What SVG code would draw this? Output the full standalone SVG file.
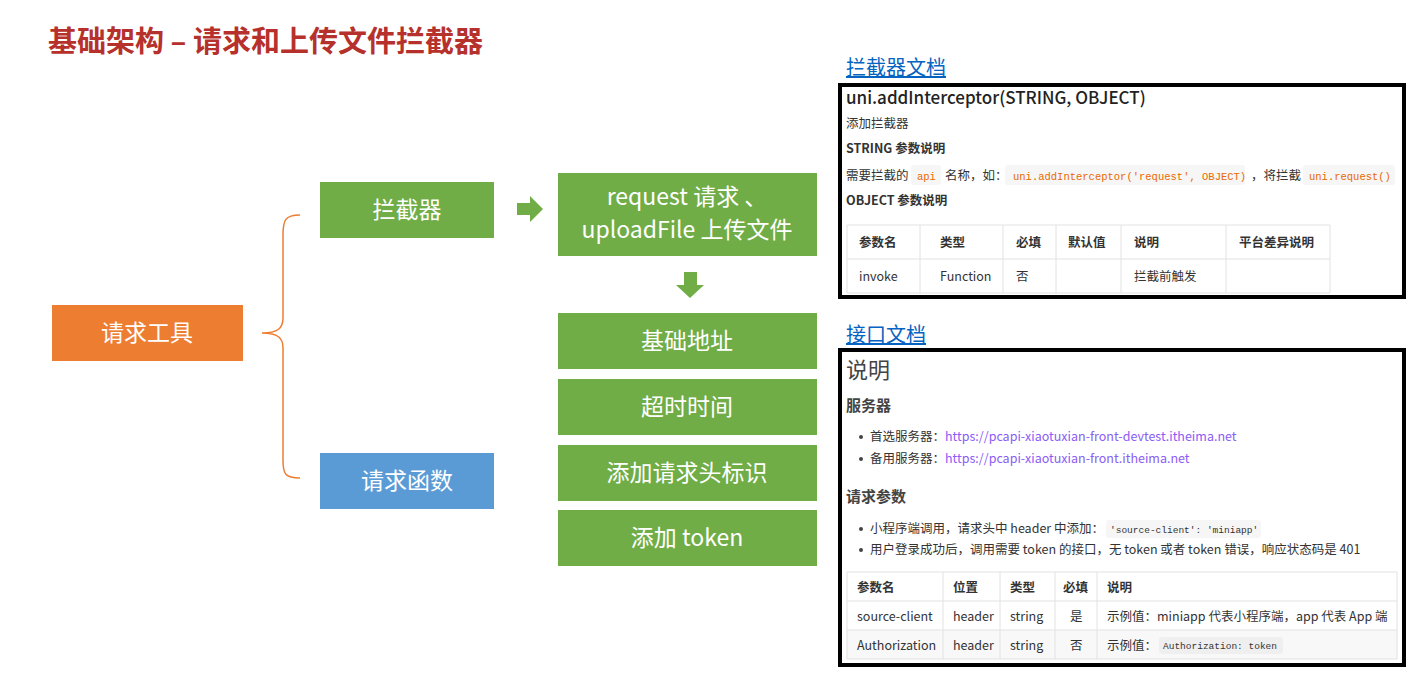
<svg xmlns="http://www.w3.org/2000/svg" width="1422" height="673" viewBox="0 0 1422 673">
<style>
text{font-family:"Noto Sans CJK SC","Liberation Sans",sans-serif}
.n{font-size:23px;fill:#fff;text-anchor:middle}
.g{fill:#70AD47}
.d{fill:#333;font-size:12.5px}
.b{font-weight:bold}
.code{font-family:"Liberation Mono","Noto Sans CJK SC",monospace;font-size:10.5px;fill:#E96900}
.cd{font-family:"Liberation Mono","Noto Sans CJK SC",monospace;font-size:9.5px;fill:#333}
.cg{fill:#F6F6F6}
.ln{stroke:#E2E2E2;stroke-width:1;fill:none}
.link{fill:#0563C1;font-size:20px;text-decoration:underline}
</style>
<rect width="1422" height="673" fill="#fff"/>
<text x="48" y="52" font-size="29" font-weight="bold" fill="#B7312C">基础架构 – 请求和上传文件拦截器</text>
<g id="edges">
<path d="M300,215 C285,215 283,220 283,235 L283,318 C283,328 278,333 262,333 C278,333 283,338 283,348 L283,460 C283,474 285,478 300,478" fill="none" stroke="#ED7D31" stroke-width="1.5"/>
<polygon class="g" points="517,203 530,203 530,196 543,209 530,222 530,215 517,215"/>
<polygon class="g" points="684,272 697,272 697,285 704,285 690,298 676,285 684,285"/>
</g>
<g id="n1"><rect x="52" y="305" width="191" height="56" fill="#ED7D31"/><text class="n" x="147" y="341">请求工具</text></g>
<g id="n2"><rect class="g" x="320" y="182" width="174" height="56"/><text class="n" x="407" y="218">拦截器</text></g>
<g id="n3"><rect x="320" y="453" width="174" height="56" fill="#5B9BD5"/><text class="n" x="407" y="489">请求函数</text></g>
<g id="n4"><rect class="g" x="558" y="173" width="259" height="83"/><text class="n" x="687" y="205">request 请求 、</text><text class="n" x="687" y="238">uploadFile 上传文件</text></g>
<g id="n5"><rect class="g" x="558" y="313" width="259" height="56"/><text class="n" x="687" y="349">基础地址</text></g>
<g id="n6"><rect class="g" x="558" y="379" width="259" height="56"/><text class="n" x="687" y="415">超时时间</text></g>
<g id="n7"><rect class="g" x="558" y="445" width="259" height="56"/><text class="n" x="687" y="481">添加请求头标识</text></g>
<g id="n8"><rect class="g" x="558" y="510" width="259" height="56"/><text class="n" x="687" y="546">添加 token</text></g>
<g id="doc1">
<text class="link" x="846" y="75">拦截器文档</text>
<rect x="840" y="85" width="564" height="212" fill="#fff" stroke="#000" stroke-width="4"/>
<text x="846" y="104" font-size="17" font-weight="500" fill="#222">uni.addInterceptor(STRING, OBJECT)</text>
<text class="d" x="846" y="128">添加拦截器</text>
<text class="d b" x="846" y="153">STRING 参数说明</text>
<rect class="cg" x="1005" y="165" width="240" height="20" rx="3"/><rect class="cg" x="911" y="165" width="30" height="20" rx="3"/><rect class="cg" x="1303" y="165" width="92" height="20" rx="3"/>
<text class="d" x="846" y="180">需要拦截的<tspan class="code" x="917">api</tspan><tspan x="945">名称，如：</tspan><tspan class="code" x="1013">uni.addInterceptor('request', OBJECT)</tspan><tspan x="1251">，将拦截</tspan><tspan class="code" x="1309">uni.request()</tspan></text>
<text class="d b" x="846" y="205">OBJECT 参数说明</text>
<path class="ln" d="M847,225 H1330 M847,259 H1330 M847,293 H1330 M847,225 V293 M920,225 V293 M1003,225 V293 M1056,225 V293 M1121,225 V293 M1226,225 V293 M1330,225 V293"/>
<g class="d b"><text x="859" y="247">参数名</text><text x="940" y="247">类型</text><text x="1016" y="247">必填</text><text x="1068" y="247">默认值</text><text x="1134" y="247">说明</text><text x="1239" y="247">平台差异说明</text></g>
<g class="d"><text x="859" y="281">invoke</text><text x="940" y="281">Function</text><text x="1016" y="281">否</text><text x="1134" y="281">拦截前触发</text></g>
</g>
<g id="doc2">
<text class="link" x="846" y="342">接口文档</text>
<rect x="840" y="350" width="564" height="315" fill="#fff" stroke="#000" stroke-width="4"/>
<text x="846" y="378" font-size="22" fill="#444">说明</text>
<text class="b" x="846" y="411" font-size="15" fill="#444">服务器</text>
<g class="d" font-size="12"><circle cx="861" cy="437" r="2" fill="#444"/><text x="870" y="441">首选服务器：<tspan fill="#8B5CF6">https://pcapi-xiaotuxian-front-devtest.itheima.net</tspan></text>
<circle cx="861" cy="459" r="2" fill="#444"/><text x="870" y="463">备用服务器：<tspan fill="#8B5CF6">https://pcapi-xiaotuxian-front.itheima.net</tspan></text></g>
<text class="b" x="846" y="502" font-size="15" fill="#444">请求参数</text>
<rect class="cg" x="1106" y="520" width="155" height="18" rx="3"/>
<circle cx="861" cy="529" r="2" fill="#444"/><text class="d" x="870" y="533" font-size="12">小程序端调用，请求头中 header 中添加：<tspan class="cd" x="1110">'source-client': 'miniapp'</tspan></text>
<circle cx="861" cy="550" r="2" fill="#444"/><text class="d" x="870" y="554" font-size="12">用户登录成功后，调用需要 token 的接口，无 token 或者 token 错误，响应状态码是 401</text>
<rect x="847" y="630" width="550" height="29" fill="#F8F8F8"/>
<path class="ln" d="M847,572 H1397 M847,601 H1397 M847,630 H1397 M847,659 H1397 M847,572 V659 M943,572 V659 M1000,572 V659 M1055,572 V659 M1097,572 V659 M1397,572 V659"/>
<g class="d b" font-size="12"><text x="857" y="592">参数名</text><text x="953" y="592">位置</text><text x="1010" y="592">类型</text><text x="1063" y="592">必填</text><text x="1107" y="592">说明</text></g>
<g class="d" font-size="12"><text x="857" y="621">source-client</text><text x="953" y="621">header</text><text x="1010" y="621">string</text><text x="1070" y="621">是</text><text x="1107" y="621">示例值：miniapp 代表小程序端，app 代表 App 端</text>
<text x="857" y="650">Authorization</text><text x="953" y="650">header</text><text x="1010" y="650">string</text><text x="1070" y="650">否</text><text x="1107" y="650">示例值：</text></g>
<rect x="1159" y="637" width="124" height="17" rx="3" fill="#EFEFEF"/>
<text class="cd" x="1163" y="649">Authorization: token</text>
</g>
</svg>
